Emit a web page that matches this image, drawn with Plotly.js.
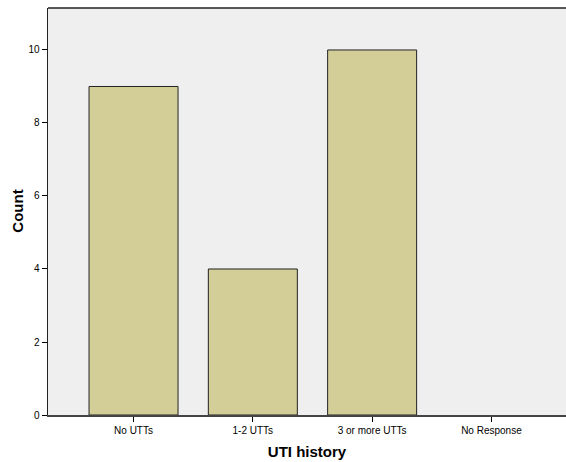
<!DOCTYPE html>
<html>
<head>
<meta charset="utf-8">
<script src="https://cdn.plot.ly/plotly-3.0.1.min.js"></script>
<style>html,body{margin:0;padding:0;background:#fff;}#chart{width:566px;height:462px;}</style>
</head>
<body>
<div id="chart"></div>
<script>
const categories = ["No UTTs", "1-2 UTTs", "3 or more UTTs", "No Response"];
const counts = [9, 4, 10, 0];
const yTicks = [0, 2, 4, 6, 8, 10];

const trace = {
  type: "bar",
  x: categories,
  y: counts,
  width: 0.746,
  marker: {color: "#d3ce98", line: {color: "#222222", width: counts.map(v => v > 0 ? 1 : 0)}},
  hoverinfo: "none"
};

const layout = {
  width: 566, height: 462,
  margin: {l: 48, r: 0, t: 8, b: 47},
  paper_bgcolor: "#ffffff",
  plot_bgcolor: "#efefef",
  font: {family: "Liberation Sans, Arial, sans-serif", size: 10, color: "#000"},
  showlegend: false,
  xaxis: {
    type: "category",
    range: [-0.717, 3.625],
    showline: true, linecolor: "#444", linewidth: 1.5,
    ticks: "outside", ticklen: 5, tickcolor: "#000", tickwidth: 1,
    showgrid: false, zeroline: false,
    tickfont: {size: 10, color: "#000"},
    title: {text: "UTI history", font: {size: 15, weight: "bold", color: "#000"}, standoff: 12}
  },
  yaxis: {
    range: [0, 11.15],
    tickvals: yTicks,
    ticktext: yTicks.map(String),
    showline: true, linecolor: "#222", linewidth: 1.5,
    ticks: "outside", ticklen: 5, tickcolor: "#000", tickwidth: 1,
    showgrid: false, zeroline: false,
    tickfont: {size: 10, color: "#000"}
  },
  annotations: [
    {text: "Count", xref: "paper", yref: "paper", x: -0.0595, y: 0.5, xanchor: "center", yanchor: "middle",
     textangle: -90, showarrow: false, font: {size: 15, weight: "bold", color: "#000"}}
  ],
  shapes: [
    {type: "line", xref: "paper", yref: "paper", x0: 0, x1: 1, y0: 1, y1: 1, line: {color: "#222", width: 1.5}}
  ]
};

Plotly.newPlot("chart", [trace], layout, {displayModeBar: false, staticPlot: true});
</script>
</body>
</html>
